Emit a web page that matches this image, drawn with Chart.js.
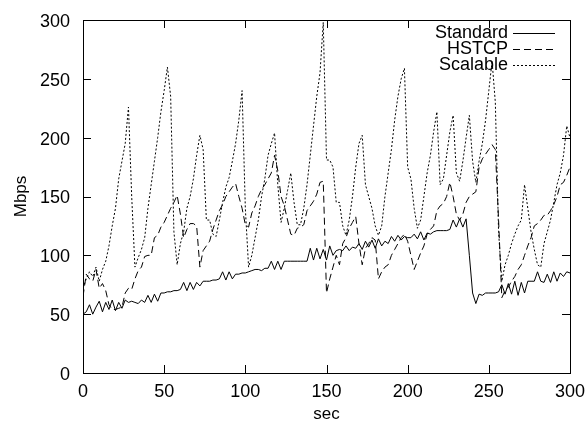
<!DOCTYPE html>
<html>
<head>
<meta charset="utf-8">
<script src="https://cdn.jsdelivr.net/npm/chart.js@4.4.1/dist/chart.umd.min.js"></script>
<style>
  html, body { margin: 0; padding: 0; background: #ffffff; }
  #wrap { width: 588px; height: 421px; }
</style>
</head>
<body>
<div id="wrap"><canvas id="c" width="588" height="421"></canvas></div>
<script>
// ---- data ----
const seconds = [];
for (let t = 0; t <= 300; t += 2) seconds.push(t);

const seriesNames = ["Standard", "HSTCP", "Scalable"];

const standard = [
  50,52,58,50,56, 61,52,60,54,62, 53,60,55,62,60, 61,60,59,62,60,
  66,60,67,61,68, 68,69,69,70,70, 71,77,70,77,71, 77,74,78,78,78,
  79,79,80,86,79, 86,80,84,84,85, 85,86,87,88,88, 87,89,89,95,88,
  95,88,95,95,95, 95,95,95,95,95, 106,96,106,97,105, 96,108,100,104,105,
  104,108,104,107,106, 110,105,112,107,113, 106,114,108,112,110, 116,112,117,113,116,
  115,115,118,114,120, 113,119,118,120,121, 121,121,121,122,130, 124,131,124,131,100,
  68,59,67,66,68, 68,68,68,69,75, 67,76,67,78,66, 77,68,78,78,78,
  86,78,77,84,77, 86,78,85,82,86, 85
];

const hstcp = [
  65,84,80,78,88, 72,76,70,58,54, 54,55,56,68,72, 71,80,87,90,99,
  100,100,115,117,124, 128,134,140,145,151, 135,115,122,127,127, 125,90,104,108,112,
  122,130,138,143,150, 154,158,161,150,140, 126,124,136,142,150, 156,160,165,170,185,
  172,150,142,130,118, 117,123,124,126,138, 142,146,152,162,163, 68,80,90,100,92,
  110,115,123,128,133, 110,92,106,110,115, 113,80,86,90,92, 100,105,110,115,118,
  112,100,88,95,102, 108,118,122,125,138, 142,144,150,162,150, 135,130,135,145,150,
  152,154,175,182,186, 190,194,190,130,64, 70,73,78,82,88, 92,100,108,115,125,
  127,130,134,134,138, 143,150,160,162,168, 175
];

const scalable = [
  72,80,86,82,90, 78,88,95,108,125, 140,165,180,195,226, 150,90,98,105,115,
  140,160,180,200,222, 240,260,235,120,92, 110,120,140,150,165, 185,202,190,130,130,
  118,116,130,145,158, 166,180,195,215,240, 140,90,100,115,130, 150,165,185,195,204,
  160,128,140,155,170, 145,126,126,140,160, 185,210,235,255,298, 181,181,175,145,145,
  125,117,130,150,175, 195,202,160,150,140, 125,117,125,150,170, 190,215,235,250,259,
  175,165,140,123,130, 150,170,185,205,222, 160,165,185,205,219, 170,163,180,200,219,
  180,162,180,195,215, 240,265,230,120,78, 92,100,110,118,125, 130,160,140,120,105,
  92,90,110,120,130, 145,160,170,185,210, 200
];

const xTitle = "sec";
const yTitle = "Mbps";

// ---- build ----
const toPts = arr => arr.map((v, i) => ({ x: seconds[i], y: v }));
const FONT = "'Liberation Sans', Arial, Helvetica, sans-serif";

const datasets = [
  { label: seriesNames[0], data: toPts(standard), borderColor: '#000', borderWidth: 1, borderDash: [] },
  { label: seriesNames[1], data: toPts(hstcp), borderColor: '#000', borderWidth: 1, borderDash: [7, 4] },
  { label: seriesNames[2], data: toPts(scalable), borderColor: '#000', borderWidth: 1, borderDash: [2, 2] }
].map(d => Object.assign(d, { pointRadius: 0, tension: 0, fill: false }));

const framePlugin = {
  id: 'frame',
  afterDraw(chart) {
    const ctx = chart.ctx;
    const a = chart.chartArea;
    const xs = chart.scales.x, ys = chart.scales.y;
    ctx.save();
    ctx.strokeStyle = '#000';
    ctx.lineWidth = 1;
    ctx.setLineDash([]);
    ctx.strokeRect(Math.round(a.left) + 0.5, Math.round(a.top) + 0.5,
                   Math.round(a.right - a.left), Math.round(a.bottom - a.top));
    const L = 8;
    ctx.beginPath();
    xs.ticks.forEach(t => {
      const p = Math.round(xs.getPixelForValue(t.value)) + 0.5;
      ctx.moveTo(p, a.bottom); ctx.lineTo(p, a.bottom - L);
      ctx.moveTo(p, a.top); ctx.lineTo(p, a.top + L);
    });
    ys.ticks.forEach(t => {
      const p = Math.round(ys.getPixelForValue(t.value)) + 0.5;
      ctx.moveTo(a.left, p); ctx.lineTo(a.left + L, p);
      ctx.moveTo(a.right, p); ctx.lineTo(a.right - L, p);
    });
    ctx.stroke();

    // axis titles
    ctx.fillStyle = '#000';
    ctx.font = '17px ' + FONT;
    ctx.textAlign = 'center';
    ctx.textBaseline = 'middle';
    ctx.fillText(xTitle, (a.left + a.right) / 2, 414);
    ctx.save();
    ctx.translate(21, (a.top + a.bottom) / 2);
    ctx.rotate(-Math.PI / 2);
    ctx.fillText(yTitle, 0, 0);
    ctx.restore();

    // key (top right, inside)
    ctx.font = '18px ' + FONT;
    ctx.textAlign = 'right';
    chart.data.datasets.forEach((ds, i) => {
      const y = 33 + i * 16;
      ctx.fillText(ds.label, 508, y);
      ctx.beginPath();
      ctx.setLineDash(ds.borderDash);
      ctx.lineWidth = 1;
      ctx.moveTo(513, y + 0.5); ctx.lineTo(555, y + 0.5);
      ctx.stroke();
    });
    ctx.restore();
  }
};

new Chart(document.getElementById('c'), {
  type: 'line',
  data: { datasets },
  options: {
    responsive: false,
    animation: false,
    devicePixelRatio: 1,
    layout: { padding: { left: 0, right: 18, top: 20, bottom: 0 } },
    plugins: { legend: { display: false }, tooltip: { enabled: false } },
    scales: {
      x: {
        type: 'linear', min: 0, max: 300,
        ticks: { stepSize: 50, color: '#000', font: { family: FONT, size: 18 }, padding: 8, maxRotation: 0 },
        grid: { display: false, drawTicks: false },
        border: { display: false },
        afterFit(s) { s.height = 48; s.paddingLeft = 0; s.paddingRight = 0; }
      },
      y: {
        min: 0, max: 300,
        ticks: { stepSize: 50, color: '#000', font: { family: FONT, size: 18 }, padding: 13, labelOffset: 2 },
        grid: { display: false, drawTicks: false },
        border: { display: false },
        afterFit(s) { s.width = 83; s.paddingTop = 0; s.paddingBottom = 0; }
      }
    }
  },
  plugins: [framePlugin]
});
</script>
</body>
</html>
